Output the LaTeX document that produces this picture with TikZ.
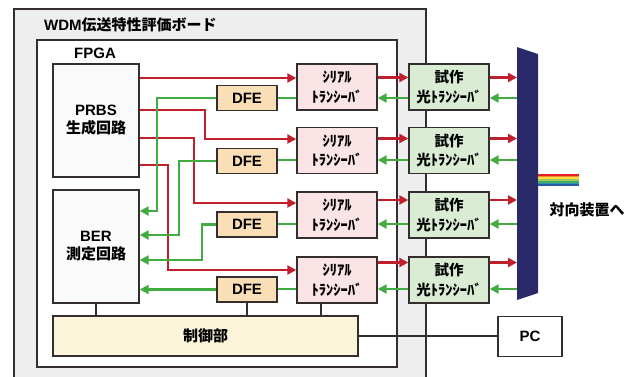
\documentclass[tikz,border=0pt]{standalone}
\usepackage{fontspec}
\setmainfont{Liberation Sans}
\newfontfamily\jp{Noto Sans CJK JP}
\usetikzlibrary{arrows.meta}
\definecolor{boardgray}{RGB}{238,238,238}
\definecolor{edge}{RGB}{52,46,46}
\definecolor{sigred}{RGB}{192,32,44}
\definecolor{siggreen}{RGB}{66,172,64}
\definecolor{dfefill}{RGB}{250,222,182}
\definecolor{serfill}{RGB}{250,228,230}
\definecolor{optfill}{RGB}{218,236,212}
\definecolor{ctlfill}{RGB}{252,245,218}
\definecolor{navy}{RGB}{42,42,106}
\definecolor{blkfill}{RGB}{250,250,250}
\definecolor{rb1}{RGB}{228,32,40}
\definecolor{rb2}{RGB}{244,140,44}
\definecolor{rb3}{RGB}{250,218,70}
\definecolor{rb4}{RGB}{160,202,90}
\definecolor{rb5}{RGB}{70,172,100}
\definecolor{rb6}{RGB}{40,150,170}
\definecolor{rb7}{RGB}{44,88,170}
\tikzset{
  box/.style={draw=edge, line width=1.4pt, inner sep=0pt, align=center,
    font=\bfseries\fontsize{15}{19}\selectfont},
  blk/.style={box, fill=blkfill, minimum width=86pt, minimum height=113pt},
  dfebox/.style={box, fill=dfefill, minimum width=60pt, minimum height=25pt},
  serbox/.style={box, fill=serfill, minimum width=80pt, minimum height=46pt,
    font=\jp\bfseries\fontsize{14.5}{19.5}\selectfont},
  optbox/.style={box, fill=optfill, minimum width=80pt, minimum height=46pt,
    font=\jp\bfseries\fontsize{14.5}{19.5}\selectfont},
  rsig/.style={draw=sigred, line width=2.6pt, -{Triangle[length=9pt,width=9pt]}},
  gsig/.style={draw=siggreen, line width=2.6pt, -{Triangle[length=9pt,width=9pt]}},
  gline/.style={draw=siggreen, line width=2.6pt},
  ctl/.style={draw=edge, line width=1.4pt},
  lbl/.style={inner sep=0pt, font=\bfseries\fontsize{15}{19}\selectfont}
}
\begin{document}
\begin{tikzpicture}[x=1pt,y=-1pt]
\useasboundingbox (0,0) rectangle (638,376);
\clip (0,0) rectangle (638,376);
% board
\fill[boardgray] (14,9) rectangle (426,400);
\draw[edge, line width=2.4pt] (14,400) -- (14,9) -- (426,9) -- (426,400);
\node[lbl, anchor=west] (title) at (44,25) {WDM{\jp 伝送特性評価ボード}};
% FPGA
\draw[edge, line width=1.5pt, fill=white] (37,40) rectangle (397,367);
\node[lbl] (fpga) at (95,53) {FPGA};
% row coordinates
\coordinate (p1) at (0,78);  \coordinate (p2) at (0,110);
\coordinate (p3) at (0,138); \coordinate (p4) at (0,165);
\coordinate (ri1) at (0,78);  \coordinate (ri2) at (0,139);
\coordinate (ri3) at (0,203); \coordinate (ri4) at (0,270);
\coordinate (ro1) at (0,77.5); \coordinate (ro2) at (0,138.5);
\coordinate (ro3) at (0,200); \coordinate (ro4) at (0,262.5);
\coordinate (g1) at (0,98);  \coordinate (g2) at (0,160);
\coordinate (g3) at (0,224); \coordinate (g4) at (0,289);
\coordinate (b1) at (0,211); \coordinate (b2) at (0,235);
\coordinate (b3) at (0,260); \coordinate (b4) at (0,289);
\coordinate (muxL) at (517,0);
\coordinate (c3) at (321,0);
% blocks
\node[blk] (prbs) at (96,120.5) {PRBS\\[-1pt]{\jp 生成回路}};
\node[blk] (ber) at (96,246.5) {BER\\[-1pt]{\jp 測定回路}};
\node[dfebox] (dfe1) at (247,98) {DFE};
\node[dfebox] (dfe2) at (247,161) {DFE};
\node[dfebox] (dfe3) at (247,224.5) {DFE};
\node[dfebox] (dfe4) at (247,289.5) {DFE};
\node[serbox] (ser1) at (337,87) {ｼﾘｱﾙ\\ﾄﾗﾝｼｰﾊﾞ};
\node[serbox] (ser2) at (337,150.5) {ｼﾘｱﾙ\\ﾄﾗﾝｼｰﾊﾞ};
\node[serbox] (ser3) at (337,215) {ｼﾘｱﾙ\\ﾄﾗﾝｼｰﾊﾞ};
\node[serbox] (ser4) at (337,280) {ｼﾘｱﾙ\\ﾄﾗﾝｼｰﾊﾞ};
\node[box, fill=ctlfill, minimum width=305pt, minimum height=40pt] (ctrl) at (205.5,336) {{\jp 制御部}};
\node[box, fill=white, minimum width=64pt, minimum height=40pt] (pc) at (530,336.5) {PC};
% control connections
\draw[ctl] (ber.south) -- (ber.south |- ctrl.north);
\draw[ctl] (dfe4.south) -- (dfe4.south |- ctrl.north);
\draw[ctl] (ser4.south -| c3) -- (ctrl.north -| c3);
\draw[ctl] (ctrl.east) -- (ctrl.east -| pc.west);
% optical transceivers (on the board edge)
\node[optbox] (opt1) at (449,87) {試作\\光ﾄﾗﾝｼｰﾊﾞ};
\node[optbox] (opt2) at (449,150.5) {試作\\光ﾄﾗﾝｼｰﾊﾞ};
\node[optbox] (opt3) at (449,215) {試作\\光ﾄﾗﾝｼｰﾊﾞ};
\node[optbox] (opt4) at (449,280) {試作\\光ﾄﾗﾝｼｰﾊﾞ};
% mux
\fill[navy] (517,47) -- (538,54) -- (538,293) -- (517,300) -- cycle;
\foreach \c [count=\i] in {rb1,rb2,rb3,rb4,rb5,rb6,rb7}
  \fill[\c] (538,{174+(\i-1)*12/7}) rectangle (579,{174+\i*12/7});
\node[lbl] (dest) at (587,210) {{\jp 対向装置へ}};
% red signals
\draw[rsig] (prbs.east |- p1) -- (ser1.west |- ri1);
\draw[rsig] (prbs.east |- p2) -- (205,110) -- (205,139) -- (ser2.west |- ri2);
\draw[rsig] (prbs.east |- p3) -- (194,138) -- (194,203) -- (ser3.west |- ri3);
\draw[rsig] (prbs.east |- p4) -- (168,165) -- (168,270) -- (ser4.west |- ri4);
\foreach \k in {1,2,3,4}{
  \draw[rsig] (ser\k.east |- ro\k) -- (opt\k.west |- ro\k);
  \draw[rsig] (opt\k.east |- ro\k) -- (muxL |- ro\k);
}
% green signals
\foreach \k in {1,2,3,4}{
  \draw[gsig] (muxL |- g\k) -- (opt\k.east |- g\k);
  \draw[gsig] (opt\k.west |- g\k) -- (ser\k.east |- g\k);
  \draw[gline] (ser\k.west |- g\k) -- (dfe\k.east |- g\k);
}
\draw[gsig] (dfe1.west) -- (157,98) -- (157,211) -- (ber.east |- b1);
\draw[gsig] (dfe2.west) -- (179,161) -- (179,235) -- (ber.east |- b2);
\draw[gsig] (dfe3.west) -- (202,224.5) -- (202,260) -- (ber.east |- b3);
\draw[gsig] (dfe4.west) -- (ber.east |- dfe4.west);
\end{tikzpicture}
\end{document}
